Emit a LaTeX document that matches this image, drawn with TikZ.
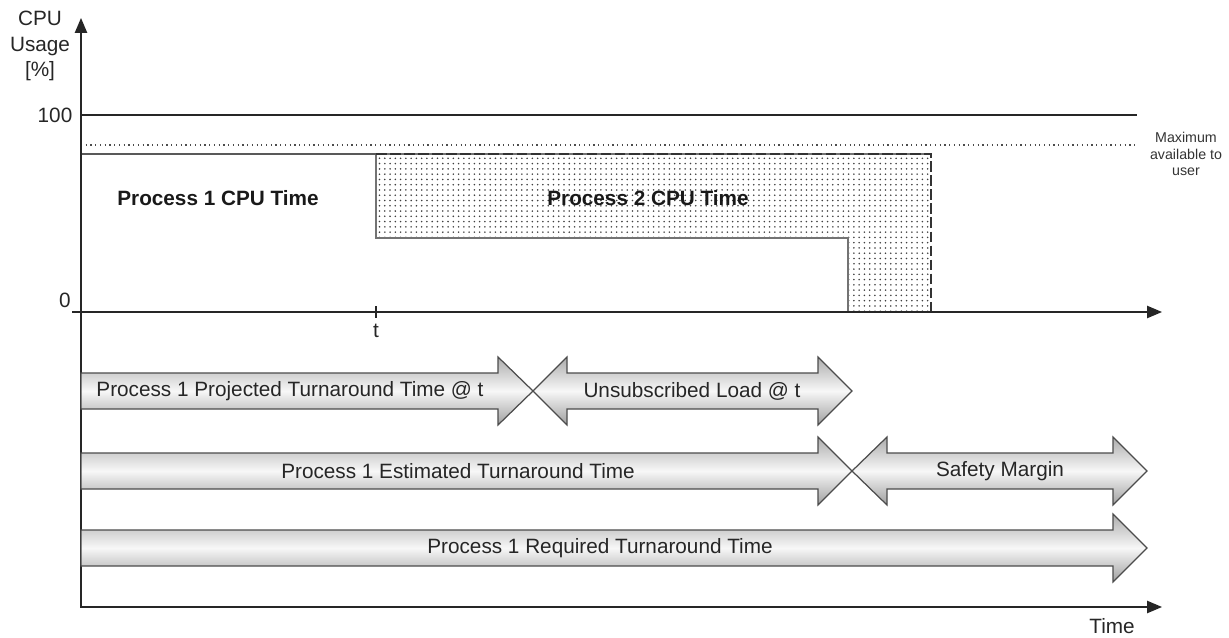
\documentclass[tikz,border=0pt]{standalone}
\usepackage{fontspec}
\setmainfont{Liberation Sans}
\usetikzlibrary{arrows.meta,patterns}

% fat arrow pointing right: start, head base, tip, centre y
\newcommand{\rightfat}[4]{%
	\path[fatarrow] (#1,#4-18) -- (#2,#4-18) -- (#2,#4-34) -- (#3,#4) -- (#2,#4+34) -- (#2,#4+18) -- (#1,#4+18) -- cycle;}
% fat arrow pointing both ways: left tip, left base, right base, right tip, centre y
\newcommand{\bothfat}[5]{%
	\path[fatarrow] (#1,#5) -- (#2,#5-34) -- (#2,#5-18) -- (#3,#5-18) -- (#3,#5-34) -- (#4,#5) -- (#3,#5+34) -- (#3,#5+18) -- (#2,#5+18) -- (#2,#5+34) -- cycle;}

\begin{document}
\begin{tikzpicture}[x=0.02cm,y=-0.02cm,
		axis/.style={line width=0.8pt,black!85},
		fatarrow/.style={draw=black!70,line width=0.7pt,top color=gray!65,bottom color=gray!75,middle color=gray!6},
		lbl/.style={font=\fontsize{11.8}{14.7}\selectfont,text=black!85},
		boldlbl/.style={font=\fontsize{11.8}{14}\selectfont\bfseries,text=black!90},
		small/.style={font=\fontsize{8.1}{9.6}\selectfont,text=black!80,align=center}]
		\useasboundingbox (0,0) rectangle (1229,638);
		
		% chart part
		\fill[pattern=dots,pattern color=black!75] (376,154) -- (931,154) -- (931,312) -- (848,312) -- (848,238) -- (376,238) -- cycle;
		\draw[black!55,line width=0.7pt] (931,154) -- (376,154) -- (376,238) -- (848,238) -- (848,312);
		\draw[black!80,line width=0.8pt,dash pattern=on 6pt off 2pt] (376,154) -- (931,154) -- (931,312);
		\draw[black!65,line width=0.7pt] (81,154) -- (376,154);
		\draw[black!85,line width=0.7pt] (81,115) -- (1137,115);
		\draw[black!70,line width=0.7pt,dotted] (81,145) -- (1137,145);
		\draw[axis,-{Triangle[length=8.5pt,width=7pt]}] (72,312) -- (1162,312);
		\draw[axis,{Triangle[length=8.5pt,width=7pt]}-{Triangle[length=8.5pt,width=7pt]}] (1162,607) -- (81,607) -- (81,18);
		\draw[axis,line width=0.6pt] (376,306) -- (376,318);
		
		\node[lbl,align=center] (ylabel) at (40,46) {CPU\\Usage\\{[}\%{]}};
		\node[lbl] (hundred) at (55,115) {100};
		\node[lbl] (zero) at (65,300) {0};
		\node[lbl] (tmark) at (376,331) {t};
		\node[lbl] (xlabel) at (1112,626) {Time};
		\node[small] (maxuser) at (1186,154) {Maximum\\available to\\user};
		\node[boldlbl] (proc1) at (218,198) {Process 1 CPU Time};
		\node[boldlbl] (proc2) at (648,198) {Process 2 CPU Time};
		
		% turnaround arrows
		\rightfat{81}{498}{533}{391}
		\bothfat{533}{567}{818}{852}{391}
		\rightfat{81}{818}{852}{471}
		\bothfat{852}{887}{1113}{1147}{471}
		\rightfat{81}{1113}{1147}{548}
		
		\node[lbl] (projected) at (290,391) {Process 1 Projected Turnaround Time @ t};
		\node[lbl] (unsub) at (692,391) {Unsubscribed Load @ t};
		\node[lbl] (estimated) at (458,471) {Process 1 Estimated Turnaround Time};
		\node[lbl] (safety) at (1000,471) {Safety Margin};
		\node[lbl] (required) at (600,548) {Process 1 Required Turnaround Time};
	\end{tikzpicture}
\end{document}
